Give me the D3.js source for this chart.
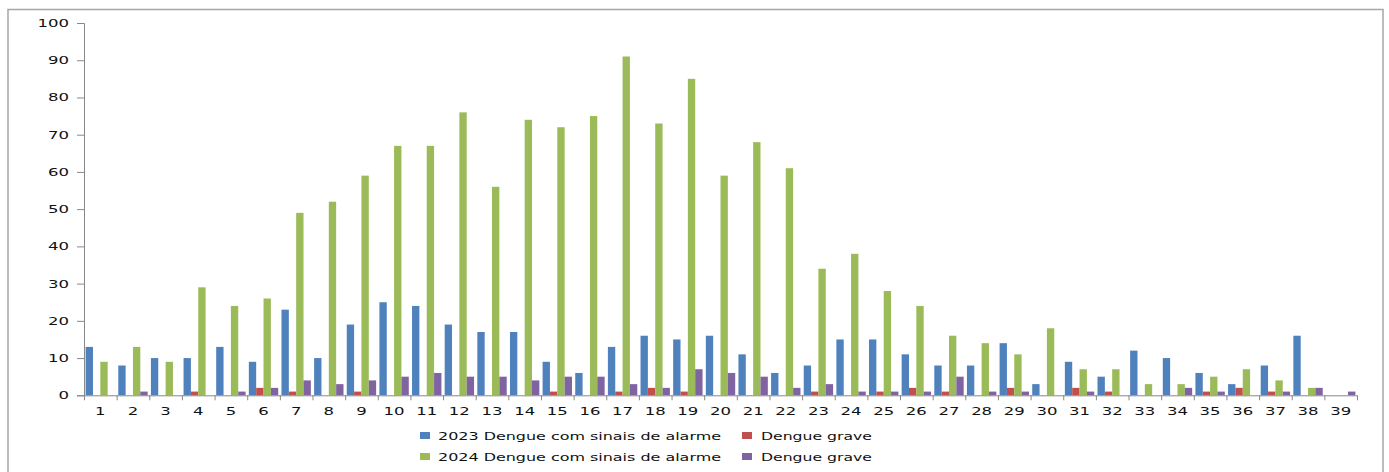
<!DOCTYPE html>
<html>
<head>
<meta charset="utf-8">
<script src="https://cdn.jsdelivr.net/npm/d3@7"></script>
<style>
  body { margin: 0; background: #fff; }
  text { font-family: "DejaVu Sans", sans-serif; }
</style>
</head>
<body>
<div id="body"></div>
<script>
// Data
const weeks = d3.range(1, 40).map(String);
const alarme2023 = [13,8,10,10,13,9,23,10,19,25,24,19,17,17,9,6,13,16,15,16,11,6,8,15,15,11,8,8,14,3,9,5,12,10,6,3,8,16,0];
const grave2023 = [0,0,0,1,0,2,1,0,1,0,0,0,0,0,1,0,1,2,1,0,0,0,1,0,1,2,1,0,2,0,2,1,0,0,1,2,1,0,0];
const alarme2024 = [9,13,9,29,24,26,49,52,59,67,67,76,56,74,72,75,91,73,85,59,68,61,34,38,28,24,16,14,11,18,7,7,3,3,5,7,4,2,0];
const grave2024 = [0,1,0,0,1,2,4,3,4,5,6,5,5,4,5,5,3,2,7,6,5,2,3,1,1,1,5,1,1,0,1,0,0,2,1,0,1,2,1];
const seriesNames = ["2023 Dengue com sinais de alarme", "Dengue grave", "2024 Dengue com sinais de alarme", "Dengue grave"];
const seriesColors = ["#4f81bd", "#c0504d", "#9bbb59", "#8064a2"];
const yTicks = [0, 10, 20, 30, 40, 50, 60, 70, 80, 90, 100];

const width = 1389;
const height = 472;
const plotLeft = 84, plotRight = 1357, plotTop = 23, plotBottom = 395.3;
const stretch = 1.5; // labels in the picture are wide

const allSeries = [alarme2023, grave2023, alarme2024, grave2024];

const svg = d3.select("#body")
              .append("svg")
              .attr("width", width)
              .attr("height", height);

// outer frame
svg.append("rect")
   .attr("x", 8).attr("y", 9.5)
   .attr("width", 1375).attr("height", 480)
   .attr("fill", "none")
   .attr("stroke", "#a6a6a6")
   .attr("stroke-width", 1.5);

const xScale = d3.scaleBand()
                 .domain(weeks)
                 .range([plotLeft, plotRight])
                 .paddingInner(0.1)
                 .paddingOuter(0.05);

const inner = d3.scaleBand()
                .domain(d3.range(4))
                .range([0, xScale.bandwidth()]);

const yScale = d3.scaleLinear()
                 .domain([0, 100])
                 .range([plotBottom, plotTop]);

// bars
allSeries.forEach(function(values, s) {
  svg.append("g")
     .selectAll("rect")
     .data(values)
     .enter()
     .append("rect")
     .attr("x", (d, i) => xScale(weeks[i]) + inner(s))
     .attr("y", (d) => yScale(d))
     .attr("width", inner.bandwidth())
     .attr("height", (d) => yScale(0) - yScale(d))
     .attr("fill", seriesColors[s]);
});

// y axis
const yAxis = d3.axisLeft(yScale)
                .tickValues(yTicks)
                .tickSize(7)
                .tickPadding(3);
const yAxisGroup = svg.append("g")
                      .attr("transform", "translate(" + plotLeft + ",0)")
                      .call(yAxis);
yAxisGroup.selectAll("text")
          .attr("transform", "scale(" + stretch + ",1)")
          .attr("font-size", 11)
          .attr("fill", "#111");

// x axis: tick marks at the week boundaries
const edgeScale = d3.scaleLinear().domain([0, weeks.length]).range([plotLeft, plotRight]);
const xTickGroup = svg.append("g")
                      .attr("transform", "translate(0," + plotBottom + ")")
                      .call(d3.axisBottom(edgeScale)
                              .tickValues(d3.range(0, weeks.length + 1))
                              .tickSize(5)
                              .tickSizeOuter(0)
                              .tickFormat(""));

// x axis labels
const xAxisGroup = svg.append("g")
                      .attr("transform", "translate(0," + plotBottom + ")")
                      .call(d3.axisBottom(xScale).tickSize(0).tickPadding(12));
xAxisGroup.select(".domain").remove();
xAxisGroup.selectAll("text")
          .attr("transform", "scale(" + stretch + ",1)")
          .attr("font-size", 11)
          .attr("fill", "#111");

svg.selectAll(".domain, .tick line").attr("stroke", "#888");

// legend
const legendPos = [
  { x: 420, tx: 438, y: 440, len: 283 },
  { x: 742, tx: 761, y: 440, len: 111 },
  { x: 420, tx: 438, y: 461, len: 283 },
  { x: 742, tx: 761, y: 461, len: 111 }
];
const legend = svg.append("g");
legend.selectAll("rect")
      .data(seriesNames)
      .enter()
      .append("rect")
      .attr("x", (d, i) => legendPos[i].x)
      .attr("y", (d, i) => legendPos[i].y - 8)
      .attr("width", 10)
      .attr("height", 7)
      .attr("fill", (d, i) => seriesColors[i]);
legend.selectAll("text")
      .data(seriesNames)
      .enter()
      .append("text")
      .attr("x", (d, i) => legendPos[i].tx)
      .attr("y", (d, i) => legendPos[i].y)
      .attr("textLength", (d, i) => legendPos[i].len)
      .attr("lengthAdjust", "spacingAndGlyphs")
      .attr("font-size", 11)
      .attr("fill", "#111")
      .text((d) => d);
</script>
</body>
</html>
